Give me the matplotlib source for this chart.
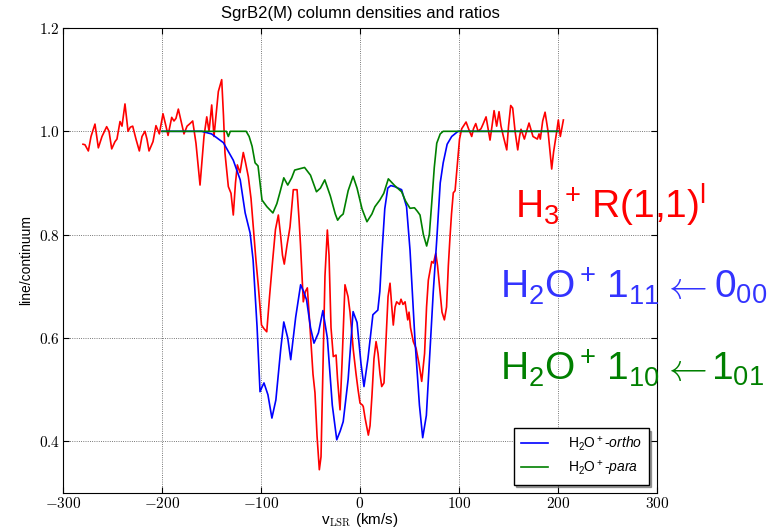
"""
SgrB2(M) line/continuum spectra: H3+ R(1,1)l with H2O+ ortho and para
"""

import numpy as np
import matplotlib
matplotlib.use("Agg")
import matplotlib.pyplot as plt
from matplotlib.ticker import FuncFormatter
from matplotlib.font_manager import FontProperties

# H3+ R(1,1)l (red, noisy)
v_h3 = [-279.8, -277.8, -274.4, -271.7, -267.7, -264.3, -260.6, -255.9, -253.5, -250.8,
        -247.5, -245.5, -242.4, -240.4, -237.4, -234.3, -232.0, -229.6, -226.3, -222.9,
        -220.2, -217.2, -215.2, -213.1, -209.1, -206.1, -202.7, -199.0, -196.0, -193.9,
        -190.2, -187.9, -185.9, -183.5, -180.8, -177.8, -174.7, -171.7, -169.0, -165.7,
        -161.6, -157.6, -154.8, -152.5, -149.8, -147.5, -145.5, -143.1, -139.7, -137.9,
        -136.4, -133.0, -130.3, -128.0, -125.8, -123.9, -121.2, -117.9, -115.7, -112.8,
        -110.1, -107.8, -105.1, -102.7, -99.5, -97.0, -94.2, -91.4, -88.2, -85.4,
        -82.5, -80.3, -78.3, -76.5, -73.7, -70.7, -67.4, -63.6, -61.6, -60.1,
        -57.3, -55.2, -53.2, -50.5, -47.5, -45.5, -43.4, -41.1, -39.4, -37.4,
        -35.4, -33.0, -31.3, -29.3, -27.0, -24.2, -22.7, -20.2, -18.2, -15.2,
        -12.1, -10.1, -6.8, -4.0, -2.0, 0.0, 2.5, 3.3, 5.1, 6.8,
        8.4, 10.1, 12.1, 14.1, 16.2, 18.2, 20.2, 21.9, 24.2, 26.3,
        28.3, 30.3, 32.1, 33.6, 35.4, 37.0, 39.9, 41.4, 43.4, 45.5,
        48.2, 49.5, 51.0, 53.8, 56.6, 59.6, 62.3, 65.2, 67.2, 69.0,
        70.7, 72.4, 74.2, 76.5, 78.3, 80.8, 82.8, 85.2, 87.4, 89.2,
        90.9, 92.4, 94.2, 96.0, 98.0, 100.5, 102.7, 105.1, 107.1, 109.6,
        112.8, 114.6, 116.9, 119.2, 122.2, 124.5, 127.3, 129.3, 131.3, 133.3,
        135.4, 138.0, 140.4, 142.4, 144.8, 148.2, 150.0, 152.2, 154.2, 156.6,
        159.3, 161.1, 162.6, 166.0, 168.2, 170.7, 174.7, 179.1, 180.8, 182.1,
        184.5, 186.9, 189.9, 193.6, 195.5, 198.7, 200.3, 202.3, 205.4]
r_h3 = [0.975, 0.974, 0.962, 0.990, 1.014, 0.968, 0.990, 1.009, 1.000, 0.966,
        0.980, 0.985, 1.019, 1.010, 1.053, 1.000, 1.008, 1.010, 0.985, 0.962,
        0.990, 1.000, 0.985, 0.962, 0.980, 1.011, 0.995, 1.034, 1.010, 0.992,
        1.027, 1.020, 1.025, 1.043, 1.020, 0.995, 1.010, 1.015, 1.020, 0.977,
        0.896, 0.990, 1.028, 1.000, 1.051, 0.990, 1.030, 1.077, 1.100, 1.030,
        0.958, 0.893, 0.880, 0.838, 0.900, 0.935, 0.920, 0.959, 0.940, 0.912,
        0.870, 0.816, 0.750, 0.700, 0.625, 0.618, 0.612, 0.680, 0.751, 0.810,
        0.838, 0.800, 0.760, 0.743, 0.780, 0.815, 0.887, 0.887, 0.830, 0.780,
        0.670, 0.690, 0.697, 0.620, 0.530, 0.494, 0.410, 0.345, 0.370, 0.550,
        0.720, 0.809, 0.760, 0.620, 0.564, 0.567, 0.520, 0.461, 0.550, 0.703,
        0.680, 0.650, 0.577, 0.530, 0.500, 0.474, 0.470, 0.467, 0.445, 0.428,
        0.412, 0.430, 0.490, 0.560, 0.593, 0.570, 0.530, 0.506, 0.513, 0.600,
        0.680, 0.706, 0.660, 0.625, 0.660, 0.670, 0.665, 0.675, 0.665, 0.670,
        0.635, 0.650, 0.620, 0.593, 0.580, 0.550, 0.516, 0.570, 0.660, 0.712,
        0.730, 0.748, 0.745, 0.764, 0.740, 0.690, 0.650, 0.635, 0.660, 0.740,
        0.796, 0.840, 0.881, 0.885, 0.930, 0.985, 1.005, 1.012, 1.018, 1.005,
        0.990, 1.005, 1.015, 1.000, 1.005, 1.015, 1.028, 1.005, 0.983, 1.010,
        1.040, 1.010, 1.038, 1.010, 0.990, 0.964, 1.010, 1.050, 1.045, 1.000,
        0.964, 0.990, 1.004, 0.985, 1.000, 1.016, 0.990, 0.985, 0.995, 0.985,
        1.020, 1.037, 1.000, 0.927, 0.960, 1.000, 1.022, 0.990, 1.022]

# H2O+ ortho (blue)
v_ortho = [-200, -160, -150, -145, -138, -128, -121, -116, -111, -108,
           -104, -101, -99, -97, -93, -89, -85, -80, -77, -73,
           -70, -65, -60, -57, -54, -50, -46.5, -42, -37.5, -33,
           -28, -23.5, -20, -17, -12, -7, -3, 1, 4, 8,
           13, 18, 20, 22, 25, 28, 31, 35, 42, 47,
           50.5, 55.5, 60, 63.3, 67, 70.7, 74, 77.5, 81, 84,
           88, 92.6, 99, 110, 200]
r_ortho = [1.0, 1.0, 0.995, 0.988, 0.978, 0.944, 0.906, 0.842, 0.803, 0.751,
           0.622, 0.496, 0.505, 0.513, 0.490, 0.445, 0.480, 0.580, 0.631, 0.600,
           0.558, 0.640, 0.703, 0.690, 0.674, 0.620, 0.590, 0.610, 0.653, 0.600,
           0.470, 0.403, 0.420, 0.438, 0.520, 0.651, 0.630, 0.550, 0.506, 0.560,
           0.645, 0.654, 0.690, 0.760, 0.850, 0.890, 0.895, 0.893, 0.887, 0.854,
           0.770, 0.596, 0.470, 0.407, 0.450, 0.577, 0.690, 0.790, 0.900, 0.939,
           0.975, 0.990, 1.0, 1.0, 1.0]

# H2O+ para (green)
v_para = [-200, -135, -133, -131, -115, -112, -109, -106, -103, -101,
          -99, -94, -88, -84, -81, -77, -73, -69, -66, -60,
          -56, -50, -44, -40, -35.6, -30, -25, -22.6, -20, -17,
          -12, -7, -3, 2, 7, 12, 15, 20, 24, 28.6,
          35, 42, 46, 50.5, 55, 58, 60.6, 64, 67.3, 70,
          72.4, 75, 77.5, 81, 84, 200]
r_para = [1.0, 1.0, 0.990, 1.0, 1.0, 0.990, 0.971, 0.939, 0.933, 0.900,
          0.867, 0.854, 0.842, 0.860, 0.881, 0.910, 0.896, 0.910, 0.925, 0.928,
          0.930, 0.915, 0.883, 0.890, 0.906, 0.875, 0.840, 0.828, 0.835, 0.840,
          0.885, 0.913, 0.890, 0.850, 0.825, 0.840, 0.854, 0.867, 0.880, 0.908,
          0.895, 0.883, 0.865, 0.851, 0.852, 0.845, 0.838, 0.800, 0.778, 0.800,
          0.861, 0.930, 0.977, 0.995, 1.0, 1.0]

x_ticks = [-300, -200, -100, 0, 100, 200, 300]
y_ticks = [0.4, 0.6, 0.8, 1.0, 1.2]


def main():
    plt.rcParams['mathtext.fontset'] = 'cm'
    plt.rcParams['mathtext.rm'] = 'Liberation Sans'
    plt.rcParams['mathtext.it'] = 'Liberation Sans:italic'
    plt.rcParams['mathtext.bf'] = 'Liberation Sans:bold'
    plt.rcParams['font.family'] = ['Liberation Sans', 'DejaVu Sans']

    fig = plt.figure(figsize=(7.72, 5.31), dpi=100)
    ax = fig.add_axes([0.0816, 0.0716, 0.7695, 0.8757])

    ax.plot(v_h3, r_h3, color='r', lw=1.2)
    ax.plot(v_ortho, r_ortho, color='b', lw=1.2, label=r'H$_2$O$^+$-$ortho$')
    ax.plot(v_para, r_para, color='g', lw=1.2, label=r'H$_2$O$^+$-$para$')

    ax.set_xlim(-300, 300)
    ax.set_ylim(0.3, 1.2)
    ax.set_xticks(x_ticks)
    ax.set_yticks(y_ticks)
    ax.xaxis.set_major_formatter(FuncFormatter(lambda x, p: '$%d$' % x))
    ax.yaxis.set_major_formatter(FuncFormatter(lambda y, p: '$%.1f$' % y))
    ax.tick_params(direction='in', top=True, right=True, length=4, labelsize=11, pad=2)
    ax.grid(True, color='k', linestyle=':', linewidth=0.6, alpha=0.7)

    ax.set_title('SgrB2(M) column densities and ratios', fontsize=12, pad=7)
    ax.set_ylabel('line/continuum', fontsize=10)
    ax.set_xlabel(r'v$_{\rm LSR}$ (km/s)', fontsize=11, labelpad=0)

    leg_font = FontProperties(family='Liberation Sans', size=10, math_fontfamily='custom')
    leg = ax.legend(loc='lower right', prop=leg_font, shadow=True, fancybox=False,
                    handlelength=2.0, borderpad=0.5, labelspacing=0.4,
                    handletextpad=1.4, borderaxespad=0.6)
    leg.get_frame().set_edgecolor('k')
    leg.get_frame().set_linewidth(1.0)

    big = dict(fontsize=28, va='baseline', ha='left', math_fontfamily='custom')
    arrow = dict(fontsize=28, va='baseline', ha='left', math_fontfamily='cm')
    fig.text(0.667, 0.589, r'H$_3$$^+\,$R(1,1)$^{\rm l}$', color='#ff0000', **big)

    fig.text(0.648, 0.439, r'H$_2$O$^+\,$1$_{11}$', color='#3333ff', **big)
    fig.text(0.857, 0.439, r'$\leftarrow$', color='#3333ff', **arrow)
    fig.text(0.925, 0.439, r'0$_{00}$', color='#3333ff', **big)

    fig.text(0.648, 0.284, r'H$_2$O$^+\,$1$_{10}$', color='#008000', **big)
    fig.text(0.857, 0.284, r'$\leftarrow$', color='#008000', **arrow)
    fig.text(0.921, 0.284, r'1$_{01}$', color='#008000', **big)

    fig.savefig('out.png', dpi=100)


if __name__ == "__main__":
    main()
